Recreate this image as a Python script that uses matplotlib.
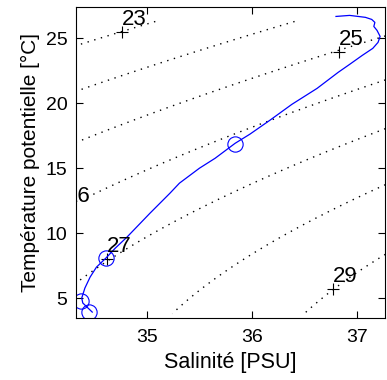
import numpy as np
import matplotlib
matplotlib.use('Agg')
import matplotlib.pyplot as plt

plt.rcParams['font.family'] = ['Liberation Sans', 'DejaVu Sans']

# T-S profile
sal = [36.80, 36.93, 37.08, 37.14, 37.17, 37.16, 37.19, 37.22, 37.20, 37.15,
       37.05, 36.93, 36.82, 36.62, 36.38, 36.17, 35.98, 35.84, 35.65, 35.50,
       35.31, 35.22, 35.03, 34.81, 34.70, 34.61, 34.52, 34.46, 34.41, 34.38,
       34.39, 34.44, 34.48]
temp = [26.69, 26.77, 26.62, 26.46, 26.23, 25.92, 25.62, 25.15, 24.69, 24.23,
        23.69, 23.00, 22.38, 21.15, 19.92, 18.69, 17.62, 16.92, 15.77, 15.00,
        13.85, 13.08, 11.54, 9.69, 8.85, 8.08, 7.38, 6.62, 5.77, 5.00,
        4.62, 4.23, 3.92]

# circled points
circ_sal = [35.84, 34.61, 34.37, 34.45]
circ_temp = [16.9, 8.08, 4.75, 3.9]

# density contours and their labels
levels = [23, 24, 25, 26, 27, 28, 29]
lab_lev = [23, 25, 26, 27, 29]
lab_sal = [34.76, 36.83, 34.23, 34.62, 36.77]
lab_temp = [25.46, 23.92, 11.9, 8.0, 5.69]


def dens0(S, T):
    # UNESCO 1983 density at p=0
    T68 = T * 1.00024
    smow = (999.842594 + 6.793952e-2 * T68 - 9.095290e-3 * T68**2
            + 1.001685e-4 * T68**3 - 1.120083e-6 * T68**4 + 6.536332e-9 * T68**5)
    b = (8.24493e-1 - 4.0899e-3 * T68 + 7.6438e-5 * T68**2
         - 8.2467e-7 * T68**3 + 5.3875e-9 * T68**4)
    c = -5.72466e-3 + 1.0227e-4 * T68 - 1.6546e-6 * T68**2
    return smow + b * S + c * S**1.5 + 4.8314e-4 * S**2


sg, tg = np.meshgrid(np.linspace(34.32, 37.27, 120), np.linspace(3.8, 26.3, 120))
sigma = dens0(sg, tg) - 1000

fig = plt.figure(figsize=(3.87, 3.80), dpi=100)
ax = fig.add_axes([0.196, 0.163, 0.799, 0.818])

cs = ax.contour(sg, tg, sigma, levels=levels, colors='k', linewidths=1)
cs.set_linestyle((0, (1, 4)))

ax.plot(lab_sal, lab_temp, '+', color='k', ms=9, mew=0.8)
for lev, s, t in zip(lab_lev, lab_sal, lab_temp):
    ax.annotate(str(lev), (s, t), xytext=(0, 5), textcoords='offset points',
                fontsize=16, ha='left', va='baseline',
                annotation_clip=False, clip_on=True)

ax.plot(sal, temp, color='b', lw=0.9)
ax.plot(circ_sal, circ_temp, 'o', mfc='none', mec='b', ms=11, mew=0.8)

ax.set_xlim(34.324, 37.267)
ax.set_ylim(3.46, 27.4)
ax.set_xticks([35, 36, 37])
ax.set_yticks([5, 10, 15, 20, 25])
ax.tick_params(direction='in', top=True, right=True, length=5, width=0.8,
               labelsize=14, pad=6)
ax.tick_params(axis='x', pad=8)
for sp in ax.spines.values():
    sp.set_linewidth(0.8)

ax.set_xlabel('Salinité [PSU]', fontsize=15.5, labelpad=4)
ax.set_ylabel('Température potentielle [°C]', fontsize=15, labelpad=4)

fig.savefig('out.png', dpi=100)
